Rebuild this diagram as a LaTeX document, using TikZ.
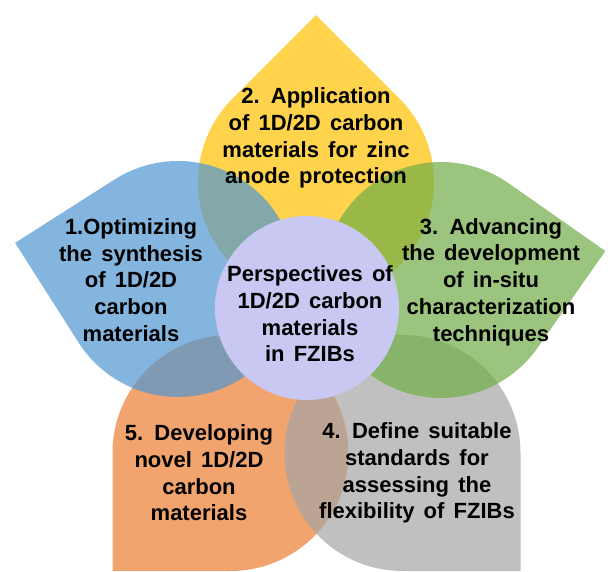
\documentclass[tikz,border=0pt]{standalone}
\usepackage{fontspec}
\setmainfont{Liberation Sans}[WordSpace=1.5]
\definecolor{cyel}{RGB}{255,192,0}
\definecolor{cblu}{RGB}{80,150,210}
\definecolor{cgrn}{RGB}{112,173,71}
\definecolor{cora}{RGB}{237,125,49}
\definecolor{cgry}{RGB}{165,165,165}
\definecolor{clav}{RGB}{201,200,242}
\newcommand\petaldrop[4]{%
  \begin{scope}[shift={(#2,#3)},rotate=#4]
    \fill[#1,fill opacity=0.7] (118,0) -- (118,118) -- (0,118)
      arc[start angle=90,end angle=360,radius=118] -- cycle;
  \end{scope}}
\begin{document}
\begin{tikzpicture}[x=1pt,y=1pt,
  lbl/.style={align=center,inner sep=0pt,font=\bfseries\fontsize{22}{26.7}\selectfont,text=black}]
\useasboundingbox (0,0) rectangle (608,571);
\clip (0,0) rectangle (608,571);
% petals (bottom to top)
\petaldrop{cyel}{316}{389}{45}
\petaldrop{cora}{230.5}{118}{180}
\petaldrop{cgry}{402.5}{118}{270}
\petaldrop{cgrn}{441}{291}{-35}
\petaldrop{cblu}{178}{292}{122.5}
% centre
\node[circle,fill=clav,minimum size=184pt,inner sep=0pt] (core) at (307,263) {};
\node[lbl] (tcore) at (310,257) {Perspectives of\\1D/2D carbon\\materials\\in FZIBs};
\node[lbl] (t2) at (316,433) {2. Application\\of 1D/2D carbon\\materials for zinc\\anode protection};
\node[lbl] (t1) at (131,291) {1.Optimizing\\the synthesis\\of 1D/2D\\carbon\\materials};
\node[lbl] (t3) at (491,289) {3. Advancing\\the development\\of in-situ\\characterization\\techniques};
\node[lbl] (t5) at (199,98) {5. Developing\\novel 1D/2D\\carbon\\materials};
\node[lbl] (t4) at (417,98) {4. Define suitable\\standards for\\assessing the\\flexibility of FZIBs};
\end{tikzpicture}
\end{document}
